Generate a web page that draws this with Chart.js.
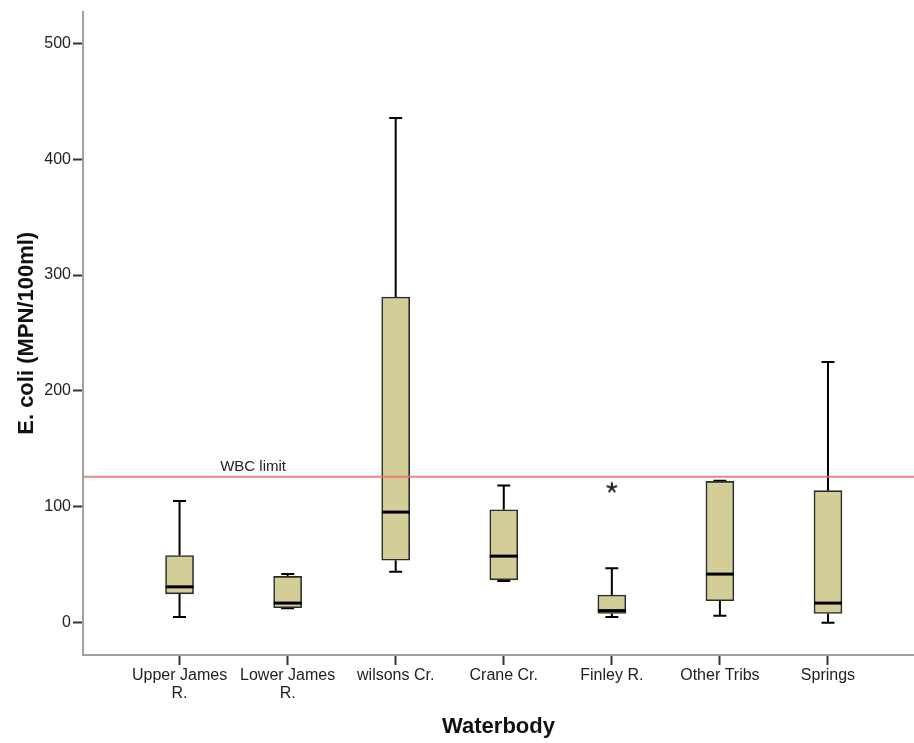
<!DOCTYPE html>
<html>
<head>
<meta charset="utf-8">
<title>E. coli by waterbody</title>
<script src="https://cdn.jsdelivr.net/npm/chart.js@4.4.1/dist/chart.umd.min.js"></script>
<style>
  html, body { margin: 0; padding: 0; background: #fff; }
  canvas { display: block; }
</style>
</head>
<body>
<canvas id="ecoli" width="914" height="743"></canvas>
<script>
// one box per waterbody, placed at x = 1..7
const waterbodies = [['Upper James', 'R.'], ['Lower James', 'R.'], 'wilsons Cr.', 'Crane Cr.', 'Finley R.', 'Other Tribs', 'Springs'];

// E. coli (MPN/100ml) box summaries
const whiskerLow  = [5,   12.5, 44,    36,    5,    6,     0];
const q1          = [25,  13,   54,    37,    8,    19,    8];
const median      = [31,  17,   95.5,  57.5,  10.5, 42,    17];
const q3          = [58,  40,   281,   97.5,  24,   122,   114];
const whiskerHigh = [105, 42,   435.5, 118.5, 47,   122.5, 225];

// extreme values (drawn as stars): group number and value
const extremeGroup = [5];
const extremeValue = [116.5];

const wbcLimit = 126;
const yTicks = [0, 100, 200, 300, 400, 500];

const FONT = '"Liberation Sans", Arial, sans-serif';

function starMarker() {
  const c = document.createElement('canvas');
  c.width = 16; c.height = 16;
  const g = c.getContext('2d');
  g.strokeStyle = '#222';
  g.lineWidth = 2;
  g.beginPath();
  for (let k = 0; k < 5; k++) {
    const a = -Math.PI / 2 + k * 2 * Math.PI / 5;
    g.moveTo(8, 8);
    g.lineTo(8 + 5.5 * Math.cos(a), 8 + 5.5 * Math.sin(a));
  }
  g.stroke();
  return c;
}

// whiskers behind the boxes, medians + limit line on top
const boxParts = {
  id: 'boxParts',
  beforeDatasetsDraw(chart) {
    const { ctx, scales: { y } } = chart;
    const bars = chart.getDatasetMeta(0).data;
    const cap = 6.5;
    ctx.save();
    ctx.strokeStyle = '#000';
    ctx.lineWidth = 2;
    bars.forEach((bar, i) => {
      const cx = bar.x;
      const hi = y.getPixelForValue(whiskerHigh[i]);
      const lo = y.getPixelForValue(whiskerLow[i]);
      ctx.beginPath();
      ctx.moveTo(cx, y.getPixelForValue(q3[i])); ctx.lineTo(cx, hi);
      ctx.moveTo(cx - cap, hi); ctx.lineTo(cx + cap, hi);
      ctx.moveTo(cx, y.getPixelForValue(q1[i])); ctx.lineTo(cx, lo);
      ctx.moveTo(cx - cap, lo); ctx.lineTo(cx + cap, lo);
      ctx.stroke();
    });
    ctx.restore();
  },
  afterDatasetsDraw(chart) {
    const { ctx, chartArea, scales: { x, y } } = chart;
    const bars = chart.getDatasetMeta(0).data;
    ctx.save();
    ctx.strokeStyle = '#000';
    ctx.lineWidth = 3;
    bars.forEach((bar, i) => {
      const my = y.getPixelForValue(median[i]);
      ctx.beginPath();
      ctx.moveTo(bar.x - bar.width / 2, my);
      ctx.lineTo(bar.x + bar.width / 2, my);
      ctx.stroke();
    });

    const ly = y.getPixelForValue(wbcLimit);
    ctx.strokeStyle = 'rgba(236, 110, 110, 0.85)';
    ctx.lineWidth = 2;
    ctx.beginPath();
    ctx.moveTo(chartArea.left + 1, ly);
    ctx.lineTo(chartArea.right, ly);
    ctx.stroke();

    ctx.fillStyle = '#222';
    ctx.font = '15px ' + FONT;
    ctx.textAlign = 'center';
    ctx.textBaseline = 'alphabetic';
    ctx.fillText('WBC limit', x.getPixelForValue(1.68), ly - 6);
    ctx.restore();
  }
};

new Chart(document.getElementById('ecoli'), {
  type: 'bar',
  data: {
    datasets: [
      {
        type: 'bar',
        data: waterbodies.map((_, i) => ({ x: i + 1, y: [q1[i], q3[i]] })),
        backgroundColor: '#d3ce98',
        borderColor: '#2b2b2b',
        borderWidth: 1.6,
        borderSkipped: false,
        barThickness: 28
      },
      {
        type: 'scatter',
        data: extremeGroup.map((g, k) => ({ x: g, y: extremeValue[k] })),
        pointStyle: starMarker(),
        pointRadius: 8
      }
    ]
  },
  options: {
    responsive: false,
    animation: false,
    devicePixelRatio: 1,
    layout: { autoPadding: false, padding: { top: 10, right: 0, bottom: 0, left: 0 } },
    plugins: { legend: { display: false }, tooltip: { enabled: false } },
    scales: {
      x: {
        type: 'linear',
        offset: false,
        min: 0.1065,
        max: 7.796,
        afterBuildTicks: s => { s.ticks = waterbodies.map((_, i) => ({ value: i + 1 })); },
        afterFit: s => { s.height = 88; },
        ticks: {
          callback: v => waterbodies[v - 1],
          autoSkip: false,
          maxRotation: 0,
          padding: 2,
          color: '#222',
          font: { family: FONT, size: 16, lineHeight: 1.1 }
        },
        grid: { offset: false, drawOnChartArea: false, tickLength: 10, tickColor: '#333', tickWidth: 2 },
        border: { color: '#a0a0a0', width: 2 },
        title: {
          display: true,
          text: 'Waterbody',
          color: '#111',
          font: { family: FONT, size: 22, weight: 'bold' },
          padding: { top: 0, bottom: 3 }
        }
      },
      y: {
        type: 'linear',
        min: -27.8,
        max: 527.3,
        afterBuildTicks: s => { s.ticks = yTicks.map(v => ({ value: v })); },
        afterFit: s => { s.width = 83; },
        ticks: { padding: 2, color: '#222', font: { family: FONT, size: 16 } },
        grid: { drawOnChartArea: false, tickLength: 10, tickColor: '#333', tickWidth: 2 },
        border: { color: '#a0a0a0', width: 2 },
        title: {
          display: true,
          text: 'E. coli (MPN/100ml)',
          color: '#111',
          font: { family: FONT, size: 22, weight: 'bold' },
          padding: { top: 14, bottom: 0 }
        }
      }
    }
  },
  plugins: [boxParts]
});
</script>
</body>
</html>
